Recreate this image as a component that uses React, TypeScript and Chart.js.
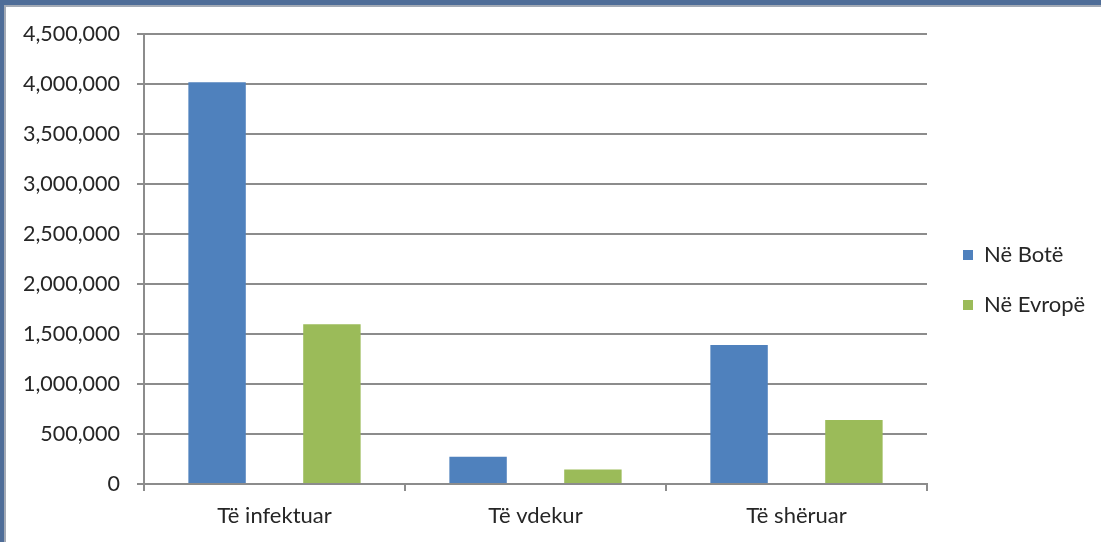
import React, { useEffect, useRef } from "react";
import { Chart, registerables } from "chart.js";

Chart.register(...registerables);

const categories = ["Të infektuar", "Të vdekur", "Të shëruar"];
const seriesNames = ["Në Botë", "Në Evropë"];
const worldValues = [4017000, 272000, 1390000];
const europeValues = [1598000, 145000, 640000];
const yTicksMax = 4500000;
const yTickStep = 500000;

const FONT = "Lato";
const TEXT = "#262626";
const GRID = "#8c8c8c";

const legendFix = {
  id: "legendFix",
  beforeLayout(chart: any) {
    const leg = chart.legend;
    if (leg && !leg._patched) {
      const orig = leg.fit.bind(leg);
      leg.fit = function () {
        orig();
        if (this.options.display) this.width = 174;
      };
      leg._patched = true;
    }
  },
  afterLayout(chart: any) {
    const leg = chart.legend;
    if (leg) {
      leg.left += 8;
      leg.right += 8;
      leg.top -= 8;
      leg.bottom -= 8;
    }
  },
};

export default function App() {
  const ref = useRef<HTMLCanvasElement | null>(null);
  useEffect(() => {
    if (!ref.current) return;
    const chart = new Chart(ref.current, {
      type: "bar",
      data: {
        labels: categories,
        datasets: [
          {
            label: seriesNames[0],
            data: worldValues,
            backgroundColor: "#4f81bd",
            borderWidth: 0,
            categoryPercentage: 0.88,
            barPercentage: 0.5,
          },
          {
            label: seriesNames[1],
            data: europeValues,
            backgroundColor: "#9bbb59",
            borderWidth: 0,
            categoryPercentage: 0.88,
            barPercentage: 0.5,
          },
        ],
      },
      options: {
        responsive: false,
        animation: false,
        devicePixelRatio: 1,
        layout: { padding: { left: 0, right: 0, top: 34, bottom: 0 } },
        plugins: {
          legend: {
            position: "right",
            labels: {
              font: { family: FONT, size: 22 },
              color: TEXT,
              boxWidth: 10,
              boxHeight: 10,
              padding: 28,
            },
          },
          tooltip: { enabled: false },
          title: { display: false },
        },
        scales: {
          x: {
            offset: true,
            grid: {
              offset: true,
              drawOnChartArea: false,
              drawTicks: true,
              tickLength: 7,
              color: GRID,
              lineWidth: 2,
            },
            border: { display: true, color: GRID, width: 2 },
            ticks: {
              font: { family: FONT, size: 22 },
              color: TEXT,
              padding: 12,
              maxRotation: 0,
            },
            afterFit(scale: any) {
              scale.height = 58;
            },
          },
          y: {
            min: 0,
            max: yTicksMax,
            grid: {
              color: GRID,
              lineWidth: 2,
              drawTicks: true,
              tickLength: 7,
            },
            border: { display: true, color: GRID, width: 2 },
            ticks: {
              stepSize: yTickStep,
              font: { family: FONT, size: 21.5 },
              color: TEXT,
              padding: 17,
              callback: (v: any) => Number(v).toLocaleString("en-US"),
            },
            afterFit(scale: any) {
              scale.width = 144;
            },
          },
        },
      },
      plugins: [legendFix],
    });
    return () => chart.destroy();
  }, []);

  return (
    <div
      style={{
        position: "fixed",
        left: 0,
        top: 0,
        width: 1101,
        height: 542,
        background: "#ffffff",
        overflow: "hidden",
      }}
    >
      <div style={{ position: "absolute", left: 0, top: 0, width: 1101, height: 5, background: "#4f6d98" }} />
      <div style={{ position: "absolute", left: 0, top: 5, width: 1101, height: 2, background: "#a3aab5" }} />
      <div style={{ position: "absolute", left: 0, top: 0, width: 4, height: 542, background: "#4f6d98" }} />
      <div style={{ position: "absolute", left: 4, top: 5, width: 2, height: 537, background: "#a3aab5" }} />
      <canvas
        ref={ref}
        width={1101}
        height={542}
        style={{ position: "absolute", left: 0, top: 0, width: 1101, height: 542 }}
      />
    </div>
  );
}
